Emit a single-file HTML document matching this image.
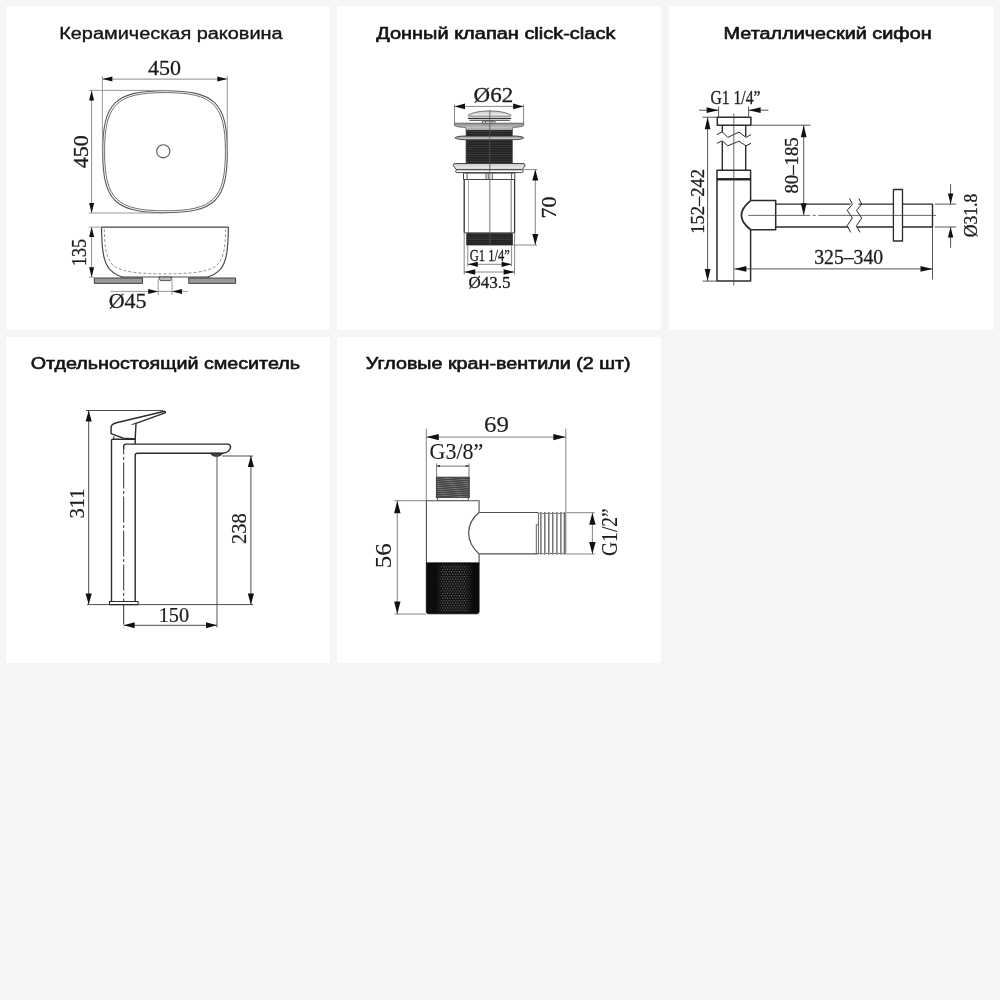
<!DOCTYPE html>
<html lang="ru">
<head>
<meta charset="utf-8">
<title>Схемы</title>
<style>
html,body{margin:0;padding:0}
body{width:1000px;height:1000px;background:#f5f5f5;position:relative;overflow:hidden;font-family:"Liberation Sans",sans-serif}
.panel{position:absolute;background:#fff;border-radius:2px}
svg{position:absolute;left:0;top:0}
.dims text{font-family:"Liberation Serif",serif;fill:#1c1c1c;stroke:#1c1c1c;stroke-width:var(--tsw,0.3px)}
.titles text{font-family:"Liberation Sans",sans-serif;font-weight:normal;font-size:16px;fill:#141414;stroke:#141414;stroke-linejoin:round}
</style>
</head>
<body>
<div class="panel" style="left:6px;top:6px;width:324.2px;height:324.2px"></div>
<div class="panel" style="left:337.3px;top:6px;width:324.2px;height:324.2px"></div>
<div class="panel" style="left:668.8px;top:6px;width:325px;height:324.2px"></div>
<div class="panel" style="left:6px;top:337.3px;width:324.2px;height:325.3px"></div>
<div class="panel" style="left:337.3px;top:337.3px;width:324.2px;height:325.3px"></div>
<svg width="1000" height="1000" viewBox="0 0 1000 1000">
<g class="titles" style="filter:blur(0.3px)">
<text x="59.2" y="38.8" textLength="223.4" lengthAdjust="spacingAndGlyphs" stroke-width="0.35">Керамическая раковина</text>
<text x="376.2" y="38.7" textLength="239.2" lengthAdjust="spacingAndGlyphs" stroke-width="0.6">Донный клапан click-clack</text>
<text x="723.6" y="38.7" textLength="208.0" lengthAdjust="spacingAndGlyphs" stroke-width="0.6">Металлический сифон</text>
<text x="30.8" y="369.1" textLength="269.2" lengthAdjust="spacingAndGlyphs" stroke-width="0.6">Отдельностоящий смеситель</text>
<text x="365.8" y="369.1" textLength="264.8" lengthAdjust="spacingAndGlyphs" stroke-width="0.6">Угловые кран-вентили (2 шт)</text>
</g>
<g class="dims" stroke-linecap="butt" stroke-linejoin="round" style="filter:blur(0.35px)">
<g id="p1" style="--tsw:0.3px">
<path d="M165.0,90.7 C214.8,90.7 227.3,102.9 227.3,151.7 C227.3,200.5 214.8,212.7 165.0,212.7 C115.2,212.7 102.7,200.5 102.7,151.7 C102.7,102.9 115.2,90.7 165.0,90.7 Z" stroke="#5c5c5c" stroke-width="1.1" fill="none" />
<path d="M165.0,92.6 C213.3,92.6 225.4,104.4 225.4,151.7 C225.4,199.0 213.3,210.8 165.0,210.8 C116.7,210.8 104.6,199.0 104.6,151.7 C104.6,104.4 116.7,92.6 165.0,92.6 Z" stroke="#6e6e6e" stroke-width="1.0" fill="none" />
<circle cx="163.3" cy="151.3" r="6.6" fill="none" stroke="#555" stroke-width="1.1"/>
<line x1="102.4" y1="76.0" x2="102.4" y2="151.7" stroke="#8e8e8e" stroke-width="0.9" />
<line x1="227.3" y1="76.0" x2="227.3" y2="151.7" stroke="#8e8e8e" stroke-width="0.9" />
<line x1="102.4" y1="79.1" x2="227.3" y2="79.1" stroke="#8e8e8e" stroke-width="1.0" />
<polygon points="102.4,79.1 112.4,76.6 112.4,81.6" fill="#111"/>
<polygon points="227.3,79.1 217.3,76.6 217.3,81.6" fill="#111"/>
<text x="164.5" y="74.6" font-size="22" text-anchor="middle" >450</text>
<line x1="88.9" y1="90.4" x2="165.0" y2="90.4" stroke="#8e8e8e" stroke-width="0.9" />
<line x1="88.9" y1="213.0" x2="165.0" y2="213.0" stroke="#8e8e8e" stroke-width="0.9" />
<line x1="91.6" y1="90.4" x2="91.6" y2="213.0" stroke="#8e8e8e" stroke-width="1.0" />
<polygon points="91.6,90.4 89.1,100.4 94.1,100.4" fill="#111"/>
<polygon points="91.6,213.0 89.1,203.0 94.1,203.0" fill="#111"/>
<text x="87.6" y="151.7" font-size="22" text-anchor="middle" transform="rotate(-90 87.6 151.7)" >450</text>
<path d="M101.5,227.1 L228.4,227.1" stroke="#444" stroke-width="1.3" fill="none" />
<path d="M101.5,227.1 C101.8,246 102.6,262 110,269.6 C114,273.6 118,276 123,277 L207,277 C212,276 216,273.6 220,269.6 C227.3,262 228.1,246 228.4,227.1" stroke="#4a4a4a" stroke-width="1.2" fill="none" />
<path d="M104.3,229 C104.6,250 107,262 116,267.5 C125,272 140,273.9 165,273.9 C190,273.9 205,272 214,267.5 C223,262 225.4,250 225.7,229" stroke="#888" stroke-width="0.9" fill="none" stroke-dasharray="3 2"/>
<path d="M121,277 L122,278.2 L143,278.2 M209,277 L208,278.2 L188,278.2" stroke="#2b2b2b" stroke-width="0.8" fill="none" />
<rect x="94.3" y="278.0" width="48.2" height="5.4" stroke="#333" stroke-width="0.9" fill="#9a9a9a" />
<rect x="188.8" y="278.0" width="46.8" height="5.4" stroke="#333" stroke-width="0.9" fill="#9a9a9a" />
<path d="M159,277 L160.2,280.6 L170.6,280.6 L171.8,277 Z" stroke="#333" stroke-width="0.8" fill="#bbb" />
<line x1="158.2" y1="279.0" x2="158.2" y2="295.0" stroke="#8e8e8e" stroke-width="0.9" />
<line x1="172.0" y1="279.0" x2="172.0" y2="295.0" stroke="#8e8e8e" stroke-width="0.9" />
<line x1="110.5" y1="291.4" x2="188.0" y2="291.4" stroke="#8e8e8e" stroke-width="0.9" />
<polygon points="158.2,291.4 148.2,288.9 148.2,293.9" fill="#111"/>
<polygon points="172.0,291.4 182.0,288.9 182.0,293.9" fill="#111"/>
<text x="127.6" y="308.0" font-size="22" text-anchor="middle" >Ø45</text>
<line x1="88.9" y1="227.1" x2="101.5" y2="227.1" stroke="#8e8e8e" stroke-width="0.9" />
<line x1="88.9" y1="277.2" x2="94.3" y2="277.2" stroke="#8e8e8e" stroke-width="0.9" />
<line x1="91.6" y1="227.1" x2="91.6" y2="277.2" stroke="#8e8e8e" stroke-width="1.0" />
<polygon points="91.6,227.1 89.1,237.1 94.1,237.1" fill="#111"/>
<polygon points="91.6,277.2 89.1,267.2 94.1,267.2" fill="#111"/>
<text x="85.8" y="252.6" font-size="22" text-anchor="middle" transform="rotate(-90 85.8 252.6)" textLength="27" lengthAdjust="spacingAndGlyphs">135</text>
</g>
<g id="p2" style="--tsw:0.3px">
<defs><pattern id="thr" width="4" height="2.3" patternUnits="userSpaceOnUse"><rect width="4" height="2.3" fill="#232323"/><rect y="0" width="4" height="0.55" fill="#474747"/></pattern><linearGradient id="gv" x1="0" y1="0" x2="0" y2="1"><stop offset="0" stop-color="#8c8c8c"/><stop offset="1" stop-color="#e2e2e2"/></linearGradient><linearGradient id="gv2" x1="0" y1="0" x2="0" y2="1"><stop offset="0" stop-color="#c8c8c8"/><stop offset="1" stop-color="#f4f4f4"/></linearGradient></defs>
<text x="493.4" y="101.5" font-size="22" text-anchor="middle" textLength="39.6" lengthAdjust="spacingAndGlyphs">Ø62</text>
<line x1="454.5" y1="104.5" x2="454.5" y2="124.6" stroke="#7c7c7c" stroke-width="0.9" />
<line x1="523.6" y1="104.5" x2="523.6" y2="124.6" stroke="#7c7c7c" stroke-width="0.9" />
<line x1="454.5" y1="106.4" x2="523.6" y2="106.4" stroke="#7c7c7c" stroke-width="0.9" />
<polygon points="454.5,106.4 465.0,103.6 465.0,109.2" fill="#111"/>
<polygon points="523.6,106.4 513.1,103.6 513.1,109.2" fill="#111"/>
<path d="M468,115.6 Q468.2,114.4 471,113.8 C479,110.0 500,110.0 508.2,113.8 Q511,114.4 511.2,115.6 Q511,116.2 508,116.2 L471,116.2 Q468.2,116.2 468,115.6 Z" stroke="#555" stroke-width="0.8" fill="url(#gv2)" />
<path d="M468,118.4 H511.2" stroke="#333" stroke-width="1.3" fill="none" />
<path d="M469.4,120.3 H509.8" stroke="#333" stroke-width="1.1" fill="none" />
<rect x="482.4" y="121.2" width="12.6" height="2.4" stroke="#444" stroke-width="0.8" fill="#fff" />
<path d="M485.5,121.2 V123.6 M492,121.2 V123.6" stroke="#444" stroke-width="0.7" fill="none" />
<path d="M454.5,123.2 H523.6 V125.4 Q523,127 513,127.4 L512.3,130.4 H466.2 L465.6,127.4 Q455.2,127 454.5,125.4 Z" stroke="#555" stroke-width="0.8" fill="url(#gv)" />
<path d="M466,128.9 H512.4" stroke="#888" stroke-width="0.7" fill="none" />
<rect x="466.2" y="130.4" width="46.0" height="33.1" stroke="#222" stroke-width="0.8" fill="url(#thr)" />
<path d="M454.9,137.8 Q457,136 466,136 L512.6,136 Q521.6,136 523.8,137.8 Q521.6,139.7 512.6,139.7 L466,139.7 Q457,139.7 454.9,137.8 Z" stroke="#333" stroke-width="0.9" fill="url(#gv)" />
<path d="M455.2,163.5 L523,163.5 Q525.4,163.7 525.1,165.6 L522.4,169.4 L456.3,169.4 L453.1,165.6 Q452.8,163.7 455.2,163.5 Z" stroke="#444" stroke-width="1.0" fill="url(#gv2)" />
<rect x="455.6" y="169.8" width="67.5" height="2.8" rx="1.4" fill="#fff" stroke="#444" stroke-width="1"/>
<rect x="463.5" y="173.1" width="51.3" height="6.4" stroke="#444" stroke-width="1.0" fill="#fff" />
<path d="M467.1,173.1 V179.5 M486,173.1 V179.5 M488.2,173.1 V179.5 M492.3,173.1 V179.5 M511.6,173.1 V179.5" stroke="#444" stroke-width="0.9" fill="none" />
<path d="M464.2,179.5 V232.8 M514.6,179.5 V232.8" stroke="#333" stroke-width="1.3" fill="none" />
<path d="M468.5,179.5 V232.8" stroke="#999" stroke-width="0.8" fill="none" />
<path d="M511.2,179.5 V232.8" stroke="#666" stroke-width="0.9" fill="none" />
<path d="M464.2,232.8 H514.6" stroke="#3a3a3a" stroke-width="0.9" fill="none" />
<rect x="466.7" y="233.6" width="45.7" height="11.4" stroke="#222" stroke-width="0.8" fill="url(#thr)" />
<line x1="489.8" y1="110.2" x2="489.8" y2="245.5" stroke="#555" stroke-width="0.8" />
<line x1="523.1" y1="169.6" x2="537.3" y2="169.6" stroke="#7c7c7c" stroke-width="0.9" />
<line x1="512.6" y1="245.0" x2="537.3" y2="245.0" stroke="#7c7c7c" stroke-width="0.9" />
<line x1="535.3" y1="169.6" x2="535.3" y2="245.0" stroke="#7c7c7c" stroke-width="0.9" />
<polygon points="535.3,169.6 532.3,180.6 538.3,180.6" fill="#111"/>
<polygon points="535.3,245.0 532.3,234.0 538.3,234.0" fill="#111"/>
<text x="555.7" y="207.6" font-size="22" text-anchor="middle" transform="rotate(-90 555.7 207.6)" >70</text>
<line x1="464.2" y1="232.8" x2="464.2" y2="274.5" stroke="#7c7c7c" stroke-width="0.9" />
<line x1="514.6" y1="232.8" x2="514.6" y2="274.5" stroke="#7c7c7c" stroke-width="0.9" />
<line x1="467.8" y1="245.0" x2="467.8" y2="266.5" stroke="#7c7c7c" stroke-width="0.9" />
<line x1="511.6" y1="245.0" x2="511.6" y2="266.5" stroke="#7c7c7c" stroke-width="0.9" />
<text x="489.8" y="260.6" font-size="16.5" text-anchor="middle" textLength="40" lengthAdjust="spacingAndGlyphs">G1 1/4”</text>
<line x1="467.8" y1="264.3" x2="511.6" y2="264.3" stroke="#7c7c7c" stroke-width="0.9" />
<polygon points="467.8,264.3 477.8,261.7 477.8,266.9" fill="#111"/>
<polygon points="511.6,264.3 501.6,261.7 501.6,266.9" fill="#111"/>
<line x1="464.2" y1="272.0" x2="514.6" y2="272.0" stroke="#7c7c7c" stroke-width="0.9" />
<polygon points="464.2,272.0 475.2,269.2 475.2,274.8" fill="#111"/>
<polygon points="514.6,272.0 503.6,269.2 503.6,274.8" fill="#111"/>
<text x="489.6" y="287.7" font-size="17" text-anchor="middle" >Ø43.5</text>
</g>
<g id="p3" style="--tsw:0.3px">
<text x="735.5" y="103.7" font-size="18.5" text-anchor="middle" textLength="50" lengthAdjust="spacingAndGlyphs">G1 1/4”</text>
<line x1="718.6" y1="106.6" x2="718.6" y2="116.6" stroke="#444" stroke-width="0.9" />
<line x1="748.6" y1="106.6" x2="748.6" y2="116.6" stroke="#444" stroke-width="0.9" />
<line x1="699.2" y1="110.2" x2="718.6" y2="110.2" stroke="#444" stroke-width="0.9" />
<line x1="748.6" y1="110.2" x2="768.4" y2="110.2" stroke="#444" stroke-width="0.9" />
<polygon points="718.6,110.2 706.6,107.3 706.6,113.1" fill="#111"/>
<polygon points="748.6,110.2 760.6,107.3 760.6,113.1" fill="#111"/>
<rect x="717.3" y="117.2" width="33.6" height="8.0" stroke="#2b2b2b" stroke-width="1.5" fill="#fff" />
<path d="M722.3,125.2 V132.2 M745.7,125.2 V136.6 M722.3,141.4 V170.3 M745.7,145.4 V170.3" stroke="#2b2b2b" stroke-width="1.4" fill="none" />
<path d="M716.9,134.6 L722.3,131.8 L727.8,137.4 L739,132.1 L746,137.4 L751,134.6" stroke="#2b2b2b" stroke-width="1.0" fill="none" />
<path d="M716.9,143.3 L722.3,140.9 L727.8,145.8 L739,141.2 L746,145.8 L751,143.3" stroke="#2b2b2b" stroke-width="1.0" fill="none" />
<rect x="717.0" y="170.3" width="33.6" height="9.4" stroke="#2b2b2b" stroke-width="1.5" fill="#fff" />
<path d="M717,178.6 H750.6" stroke="#2b2b2b" stroke-width="1.2" fill="none" />
<path d="M717,179.7 V281.1 H750.6 V229.7 M750.6,179.7 V200.6" stroke="#2b2b2b" stroke-width="1.5" fill="none" />
<path d="M750.6,200.6 H775.7 V229.7 H750.6" stroke="#2b2b2b" stroke-width="1.5" fill="none" />
<path d="M750.6,200.6 C744,206 741.4,210 741.4,215.3 C741.4,220.5 744,224.5 750.6,229.7" stroke="#2b2b2b" stroke-width="1.8" fill="none" />
<path d="M775.7,204.1 H850.5 M775.7,227.0 H848.2 M858.4,204.1 H893.4 M856.5,227.0 H893.4 M902.5,204.1 H932.5 V227.0 H902.5" stroke="#2b2b2b" stroke-width="1.4" fill="none" />
<path d="M849.5,198.4 L852.4,204.3 L847.2,210.3 L852.4,218 L847.2,225.6 L850.6,232.4" stroke="#2b2b2b" stroke-width="1.0" fill="none" />
<path d="M858.8,198.4 L861.7,204.3 L856.5,210.3 L861.7,218 L856.5,225.6 L859.9,232.4" stroke="#2b2b2b" stroke-width="1.0" fill="none" />
<rect x="893.4" y="189.5" width="9.1" height="51.5" stroke="#2b2b2b" stroke-width="1.3" fill="#fff" />
<line x1="733.8" y1="113.6" x2="733.8" y2="285.5" stroke="#444" stroke-width="0.8" />
<line x1="748.2" y1="215.4" x2="936.0" y2="215.4" stroke="#444" stroke-width="0.8" stroke-dasharray="62 2.5 3 2.5 200"/>
<line x1="702.6" y1="117.2" x2="717.3" y2="117.2" stroke="#444" stroke-width="0.9" />
<line x1="702.6" y1="281.1" x2="717.0" y2="281.1" stroke="#444" stroke-width="0.9" />
<line x1="707.6" y1="117.2" x2="707.6" y2="281.1" stroke="#444" stroke-width="0.9" />
<polygon points="707.6,117.2 704.7,129.2 710.5,129.2" fill="#111"/>
<polygon points="707.6,281.1 704.7,269.1 710.5,269.1" fill="#111"/>
<text x="704.0" y="201.3" font-size="19" text-anchor="middle" transform="rotate(-90 704.0 201.3)" textLength="64.8" lengthAdjust="spacingAndGlyphs">152–242</text>
<line x1="751.6" y1="125.2" x2="810.6" y2="125.2" stroke="#444" stroke-width="0.9" />
<line x1="803.7" y1="125.2" x2="803.7" y2="215.2" stroke="#444" stroke-width="0.9" />
<polygon points="803.7,125.2 800.8,137.2 806.6,137.2" fill="#111"/>
<polygon points="803.7,215.2 800.8,203.2 806.6,203.2" fill="#111"/>
<text x="798.4" y="165.4" font-size="19" text-anchor="middle" transform="rotate(-90 798.4 165.4)" textLength="56.2" lengthAdjust="spacingAndGlyphs">80–185</text>
<line x1="934.8" y1="204.1" x2="956.2" y2="204.1" stroke="#444" stroke-width="0.9" />
<line x1="934.8" y1="227.0" x2="956.2" y2="227.0" stroke="#444" stroke-width="0.9" />
<line x1="950.6" y1="184.2" x2="950.6" y2="204.1" stroke="#444" stroke-width="0.9" />
<line x1="950.6" y1="227.0" x2="950.6" y2="247.8" stroke="#444" stroke-width="0.9" />
<polygon points="950.6,204.1 947.9,193.6 953.3,193.6" fill="#111"/>
<polygon points="950.6,227.0 947.9,237.5 953.3,237.5" fill="#111"/>
<text x="977.1" y="215.5" font-size="18.5" text-anchor="middle" transform="rotate(-90 977.1 215.5)" textLength="43.6" lengthAdjust="spacingAndGlyphs">Ø31.8</text>
<line x1="932.5" y1="227.0" x2="932.5" y2="279.4" stroke="#444" stroke-width="0.9" />
<line x1="734.4" y1="268.9" x2="932.5" y2="268.9" stroke="#444" stroke-width="0.9" />
<polygon points="734.4,268.9 746.4,266.0 746.4,271.8" fill="#111"/>
<polygon points="932.5,268.9 920.5,266.0 920.5,271.8" fill="#111"/>
<text x="848.7" y="263.6" font-size="20.5" text-anchor="middle" textLength="69" lengthAdjust="spacingAndGlyphs">325–340</text>
</g>
<g id="p4" style="--tsw:0.2px">
<line x1="86.0" y1="410.5" x2="163.0" y2="410.5" stroke="#3a3a3a" stroke-width="0.9" />
<line x1="87.0" y1="604.6" x2="253.0" y2="604.6" stroke="#3a3a3a" stroke-width="0.9" />
<line x1="88.7" y1="410.5" x2="88.7" y2="604.6" stroke="#3a3a3a" stroke-width="0.9" />
<polygon points="88.7,410.5 85.6,421.5 91.8,421.5" fill="#111"/>
<polygon points="88.7,604.6 85.6,593.6 91.8,593.6" fill="#111"/>
<text x="84.3" y="503.6" font-size="20.5" text-anchor="middle" transform="rotate(-90 84.3 503.6)" >311</text>
<path d="M164.6,411.3 L116.5,422.7 Q111.4,424 111.1,427 L111.1,433.6 L123.2,438.1 L135.2,438.9 L136,423.4 L165,412.9 Q166,411.9 164.6,411.3 Z" stroke="#2b2b2b" stroke-width="1.4" fill="#fff" />
<path d="M131.6,424.6 L136,423.3" stroke="#2b2b2b" stroke-width="1.0" fill="none" />
<path d="M114.2,436.2 L113.2,439.3" stroke="#2b2b2b" stroke-width="1.0" fill="none" />
<path d="M111.5,601.4 V440.6 Q111.5,439.3 112.8,439.3 H135.2 V444" stroke="#2b2b2b" stroke-width="1.4" fill="none" />
<path d="M135.2,601.4 V455.4 Q135.2,453.3 137.4,453.3 H223 C227.6,452.6 230.6,449.8 230.6,447 Q230.4,444.2 227.6,444.1 H126 Q123.7,444.1 123.7,446.4 V449" stroke="#2b2b2b" stroke-width="1.4" fill="none" />
<line x1="123.7" y1="449.0" x2="123.7" y2="627.5" stroke="#333" stroke-width="1.0" stroke-dasharray="26 2.5 3 2.5" stroke-dashoffset="20.5"/>
<path d="M210.2,453.3 Q212,456.5 216.6,456.5 Q221,456.5 222.6,453.3 Z" stroke="#222" stroke-width="0.8" fill="#444" />
<rect x="109.5" y="601.5" width="28.6" height="3.1" stroke="#2b2b2b" stroke-width="1.1" fill="#fff" />
<line x1="222.0" y1="456.0" x2="253.0" y2="456.0" stroke="#3a3a3a" stroke-width="0.9" />
<line x1="250.9" y1="456.0" x2="250.9" y2="604.6" stroke="#3a3a3a" stroke-width="0.9" />
<polygon points="250.9,456.0 247.8,467.0 254.0,467.0" fill="#111"/>
<polygon points="250.9,604.6 247.8,593.6 254.0,593.6" fill="#111"/>
<text x="246.1" y="528.5" font-size="20.5" text-anchor="middle" transform="rotate(-90 246.1 528.5)" >238</text>
<line x1="217.0" y1="457.0" x2="217.0" y2="627.5" stroke="#444" stroke-width="0.9" />
<line x1="123.7" y1="625.3" x2="217.0" y2="625.3" stroke="#3a3a3a" stroke-width="0.9" />
<polygon points="123.7,625.3 134.7,622.3 134.7,628.3" fill="#111"/>
<polygon points="217.0,625.3 206.0,622.3 206.0,628.3" fill="#111"/>
<text x="173.9" y="622.0" font-size="20.3" text-anchor="middle" >150</text>
</g>
<g id="p5" style="--tsw:0.12px">
<defs><pattern id="knurl" x="426.6" y="563.4" width="2.56" height="4.8" patternUnits="userSpaceOnUse"><circle cx="0.64" cy="1.2" r="0.62" fill="#858585"/><circle cx="1.92" cy="3.6" r="0.62" fill="#858585"/></pattern><linearGradient id="kfade" x1="0" y1="0" x2="1" y2="0"><stop offset="0" stop-color="#000"/><stop offset="0.18" stop-color="#000"/><stop offset="0.32" stop-color="#fff"/><stop offset="0.72" stop-color="#fff"/><stop offset="0.9" stop-color="#000"/><stop offset="1" stop-color="#000"/></linearGradient><mask id="kmask" maskUnits="userSpaceOnUse" x="426" y="563" width="54" height="52"><rect x="426.1" y="563" width="53" height="51" fill="url(#kfade)"/></mask><pattern id="thr2" width="4" height="2.1" patternUnits="userSpaceOnUse" patternTransform="rotate(-4)"><rect width="4" height="2.1" fill="#444"/><rect width="4" height="0.65" fill="#808080"/></pattern></defs>
<text x="496.4" y="431.5" font-size="23.5" text-anchor="middle" textLength="25" lengthAdjust="spacingAndGlyphs">69</text>
<line x1="426.3" y1="428.7" x2="426.3" y2="500.7" stroke="#777" stroke-width="0.9" />
<line x1="565.8" y1="428.7" x2="565.8" y2="512.7" stroke="#777" stroke-width="0.9" />
<line x1="426.3" y1="437.1" x2="565.8" y2="437.1" stroke="#777" stroke-width="0.9" />
<polygon points="426.3,437.1 438.8,433.9 438.8,440.3" fill="#111"/>
<polygon points="565.8,437.1 553.3,433.9 553.3,440.3" fill="#111"/>
<text x="456.4" y="458.7" font-size="24" text-anchor="middle" textLength="53.6" lengthAdjust="spacingAndGlyphs">G3/8”</text>
<line x1="436.6" y1="463.3" x2="436.6" y2="477.2" stroke="#555" stroke-width="0.8" />
<line x1="469.0" y1="463.3" x2="469.0" y2="477.2" stroke="#555" stroke-width="0.8" />
<line x1="436.6" y1="466.1" x2="469.0" y2="466.1" stroke="#555" stroke-width="0.8" />
<polygon points="436.6,466.1 439.8,465.1 439.8,467.1" fill="#111"/>
<polygon points="469.0,466.1 465.8,465.1 465.8,467.1" fill="#111"/>
<rect x="436.4" y="477.2" width="32.9" height="20.6" stroke="#333" stroke-width="0.9" fill="url(#thr2)" />
<rect x="437.6" y="497.6" width="30.7" height="3.1" stroke="#444" stroke-width="0.9" fill="#fff" />
<path d="M479.1,512.3 V500.7 H426.4 V563.1 H479.1 V554" stroke="#505050" stroke-width="1.1" fill="#fff" />
<path d="M479.1,512.5 H538.4 M479.1,553.9 H538.4" stroke="#505050" stroke-width="1.1" fill="none" />
<path d="M479.1,512.3 C471.5,519 468.6,525 468.6,532.8 C468.6,540.5 471.5,547 479.1,554" stroke="#505050" stroke-width="1.2" fill="#fff" />
<path d="M538.4,524.7 H536.3 V554" stroke="#555" stroke-width="0.9" fill="none" />
<path d="M538.4,513.4 L539.7,513.4 L540.9,512.2 L542.1,513.4 L543.6,513.4 L544.8,512.2 L546.0,513.4 L547.6,513.4 L548.8,512.2 L550.0,513.4 L551.6,513.4 L552.8,512.2 L554.0,513.4 L555.7,513.4 L556.9,512.2 L558.1,513.4 L559.7,513.4 L560.9,512.2 L562.1,513.4 L563.2,513.4 L564.4,512.2 L565.6,513.4 L565.8,513.4 L565.8,553.4 L565.6,553.4 L564.4,554.6 L563.2,553.4 L562.1,553.4 L560.9,554.6 L559.7,553.4 L558.1,553.4 L556.9,554.6 L555.7,553.4 L554.0,553.4 L552.8,554.6 L551.6,553.4 L550.0,553.4 L548.8,554.6 L547.6,553.4 L546.0,553.4 L544.8,554.6 L543.6,553.4 L542.1,553.4 L540.9,554.6 L539.7,553.4 L538.4,553.4 Z" stroke="#555" stroke-width="0.9" fill="#fff" />
<path d="M540.9,512.7 V554 M544.8,512.7 V554 M548.8,512.7 V554 M552.8,512.7 V554 M556.9,512.7 V554 M560.9,512.7 V554 M564.4,512.7 V554" stroke="#6a6a6a" stroke-width="1.4" fill="none" />
<path d="M426.3,563.0 H479.1 V611.6 Q479.1,613.8 476.9,613.8 H428.5 Q426.3,613.8 426.3,611.6 Z" fill="#0b0b0b" stroke="#0b0b0b" stroke-width="0.8"/>
<rect x="427" y="564.6" width="51.4" height="47.6" fill="url(#knurl)" mask="url(#kmask)"/>
<line x1="565.8" y1="512.7" x2="594.8" y2="512.7" stroke="#777" stroke-width="0.9" />
<line x1="565.8" y1="554.0" x2="594.8" y2="554.0" stroke="#777" stroke-width="0.9" />
<line x1="592.4" y1="512.7" x2="592.4" y2="554.0" stroke="#777" stroke-width="0.9" />
<polygon points="592.4,512.7 589.2,524.7 595.6,524.7" fill="#111"/>
<polygon points="592.4,554.0 589.2,542.0 595.6,542.0" fill="#111"/>
<text x="616.7" y="532.1" font-size="23.5" text-anchor="middle" transform="rotate(-90 616.7 532.1)" textLength="47.8" lengthAdjust="spacingAndGlyphs">G1/2”</text>
<line x1="394.4" y1="500.7" x2="426.1" y2="500.7" stroke="#777" stroke-width="0.9" />
<line x1="394.4" y1="614.0" x2="426.1" y2="614.0" stroke="#777" stroke-width="0.9" />
<line x1="397.3" y1="500.7" x2="397.3" y2="614.0" stroke="#777" stroke-width="0.9" />
<polygon points="397.3,500.7 394.1,513.2 400.5,513.2" fill="#111"/>
<polygon points="397.3,614.0 394.1,601.5 400.5,601.5" fill="#111"/>
<text x="390.7" y="555.8" font-size="23.5" text-anchor="middle" transform="rotate(-90 390.7 555.8)" textLength="25" lengthAdjust="spacingAndGlyphs">56</text>
</g>
</g>
</svg>
</body>
</html>
